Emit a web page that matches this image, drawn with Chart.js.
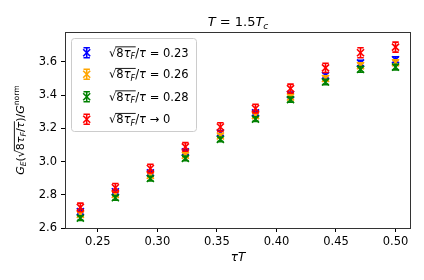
<!DOCTYPE html>
<html>
<head>
<meta charset="utf-8">
<script src="https://cdn.jsdelivr.net/npm/chart.js@4.4.0/dist/chart.umd.min.js"></script>
<style>
  html, body { margin: 0; padding: 0; background: #fff; }
  #wrap { width: 424px; height: 280px; }
</style>
</head>
<body>
<div id="wrap"><canvas id="chart" width="424" height="280"></canvas></div>
<script>
// tau*T values (x)
var tauT = [0.2353, 0.2647, 0.2941, 0.3235, 0.3529, 0.3824, 0.4118, 0.4412, 0.4706, 0.5000];

// G_E / G^norm for each flow time ratio
var g023 = [2.698, 2.818, 2.932, 3.058, 3.172, 3.293, 3.403, 3.518, 3.593, 3.613];
var g026 = [2.682, 2.802, 2.917, 3.038, 3.154, 3.277, 3.389, 3.500, 3.577, 3.595];
var g028 = [2.660, 2.782, 2.898, 3.019, 3.134, 3.256, 3.373, 3.479, 3.555, 3.569];
var gCont = [2.724, 2.842, 2.958, 3.088, 3.208, 3.319, 3.439, 3.564, 3.655, 3.689];

// error bars
var e023 = [0.014, 0.014, 0.014, 0.014, 0.014, 0.014, 0.015, 0.016, 0.017, 0.017];
var e026 = [0.014, 0.014, 0.014, 0.014, 0.014, 0.014, 0.015, 0.016, 0.017, 0.017];
var e028 = [0.014, 0.014, 0.014, 0.014, 0.014, 0.014, 0.015, 0.016, 0.017, 0.017];
var eCont = [0.026, 0.026, 0.026, 0.026, 0.026, 0.026, 0.027, 0.028, 0.030, 0.030];

var legendVals = ['= 0.23', '= 0.26', '= 0.28', '\u2192 0'];
var colors = ['#0000ff', '#ffa500', '#008000', '#ff0000'];

var xTicks = [0.25, 0.30, 0.35, 0.40, 0.45, 0.50];
var yTicks = [2.6, 2.8, 3.0, 3.2, 3.4, 3.6];

var FONT = '"DejaVu Sans", sans-serif';

function pts(ys) {
    return tauT.map(function(x, i){ return {x: x, y: ys[i]}; });
}

// draws a row of text pieces (italic, sub/superscript, overline)
function drawRuns(ctx, runs, cx, cy, size, align) {
    var total = 0;
    runs.forEach(function(r){
        var s = (r.sub || r.sup) ? size * 0.7 : size;
        r._font = (r.it ? 'italic ' : '') + s + 'px ' + FONT;
        ctx.font = r._font;
        r._w = ctx.measureText(r.t).width;
        total += r._w;
    });
    var x = align == 'left' ? cx : cx - total / 2;
    var base = cy + size * 0.35;
    var olStart = null, olEnd = null;
    ctx.textAlign = 'left';
    ctx.textBaseline = 'alphabetic';
    runs.forEach(function(r){
        ctx.font = r._font;
        var dy = r.sub ? size * 0.22 : (r.sup ? -size * 0.42 : 0);
        ctx.fillText(r.t, x, base + dy);
        if (r.ol) {
            if (olStart === null) olStart = x;
            olEnd = x + r._w;
        }
        x += r._w;
    });
    if (olStart !== null) {
        ctx.beginPath();
        ctx.lineWidth = 0.9;
        ctx.moveTo(olStart - 1, base - size * 0.86);
        ctx.lineTo(olEnd + 0.5, base - size * 0.86);
        ctx.stroke();
    }
}

function drawErrMark(ctx, x, y, errPx, color) {
    ctx.save();
    ctx.strokeStyle = color;
    ctx.lineWidth = 1.6;
    ctx.beginPath();
    ctx.moveTo(x, y - errPx); ctx.lineTo(x, y + errPx);
    ctx.moveTo(x - 3.2, y - errPx); ctx.lineTo(x + 3.2, y - errPx);
    ctx.moveTo(x - 3.2, y + errPx); ctx.lineTo(x + 3.2, y + errPx);
    ctx.stroke();
    ctx.restore();
}

var errs = [e023, e026, e028, eCont];

var extras = {
    id: 'extras',
    afterDatasetDraw: function(chart, args) {
        var ctx = chart.ctx;
        var meta = args.meta;
        var e = errs[args.index];
        var ys = chart.scales.y;
        meta.data.forEach(function(p, i){
            var v = chart.data.datasets[args.index].data[i].y;
            var px = Math.abs(ys.getPixelForValue(v + e[i]) - ys.getPixelForValue(v));
            drawErrMark(ctx, p.x, p.y, px, colors[args.index]);
        });
    },
    afterDraw: function(chart) {
        var ctx = chart.ctx;
        var a = chart.chartArea;
        ctx.save();
        // frame
        ctx.strokeStyle = '#333';
        ctx.lineWidth = 1;
        ctx.strokeRect(Math.round(a.left) + 0.5, Math.round(a.top) + 0.5,
            Math.round(a.right - a.left) - 1, Math.round(a.bottom - a.top));

        ctx.fillStyle = '#000';
        ctx.strokeStyle = '#000';
        // title
        drawRuns(ctx, [{t:'T', it:true}, {t:' = 1.5'}, {t:'T', it:true}, {t:'c', it:true, sub:true}],
            (a.left + a.right) / 2, 21.5, 13);
        // x label
        drawRuns(ctx, [{t:'\u03c4', it:true}, {t:'T', it:true}], (a.left + a.right) / 2, 256.5, 12);
        // y label
        ctx.save();
        ctx.translate(20, (a.top + a.bottom) / 2);
        ctx.rotate(-Math.PI / 2);
        drawRuns(ctx, [{t:'G', it:true}, {t:'E', it:true, sub:true}, {t:'('}, {t:'\u221a'},
            {t:'8', ol:true}, {t:'\u03c4', it:true, ol:true}, {t:'F', it:true, sub:true, ol:true},
            {t:'/', ol:true}, {t:'\u03c4', it:true, ol:true}, {t:')'}, {t:'/'}, {t:'G', it:true},
            {t:'norm', sup:true}], 0, 0, 11);
        ctx.restore();

        // legend
        ctx.beginPath();
        ctx.roundRect(71.5, 38.5, 125, 93, 3);
        ctx.fillStyle = 'rgba(255,255,255,0.8)';
        ctx.fill();
        ctx.strokeStyle = '#cccccc';
        ctx.stroke();
        var rows = [52.7, 74.3, 96.7, 119.3];
        rows.forEach(function(ry, i){
            drawErrMark(ctx, 86.7, ry, 5, colors[i]);
            ctx.save();
            ctx.strokeStyle = colors[i];
            ctx.lineWidth = 1.6;
            ctx.beginPath();
            ctx.moveTo(83.2, ry - 3.5); ctx.lineTo(90.2, ry + 3.5);
            ctx.moveTo(83.2, ry + 3.5); ctx.lineTo(90.2, ry - 3.5);
            ctx.stroke();
            ctx.restore();
            ctx.fillStyle = '#000';
            ctx.strokeStyle = '#000';
            drawRuns(ctx, [{t:'\u221a'}, {t:'8', ol:true}, {t:'\u03c4', it:true, ol:true},
                {t:'F', it:true, sub:true, ol:true}, {t:'/'}, {t:'\u03c4', it:true},
                {t:' ' + legendVals[i]}], 109, ry, 11.5, 'left');
        });
        ctx.restore();
    }
};

function ds(ys, i, ord) {
    return {
        data: pts(ys),
        pointStyle: 'crossRot',
        radius: 5,
        borderWidth: 1.6,
        borderColor: colors[i],
        backgroundColor: colors[i],
        showLine: false,
        order: ord
    };
}

var ctx = document.getElementById('chart').getContext('2d');
var chart = new Chart(ctx, {
    type: 'scatter',
    data: {
        datasets: [ds(g023, 0, 4), ds(g026, 1, 3), ds(g028, 2, 2), ds(gCont, 3, 1)]
    },
    plugins: [extras],
    options: {
        responsive: false,
        animation: false,
        layout: { padding: { top: 32, right: 13, left: 0, bottom: 0 } },
        plugins: { legend: { display: false }, tooltip: { enabled: false } },
        scales: {
            x: {
                type: 'linear',
                min: 0.2224,
                max: 0.513,
                afterBuildTicks: function(s){ s.ticks = xTicks.map(function(v){ return {value: v}; }); },
                afterFit: function(s){ s.height = 52; },
                ticks: {
                    color: '#000', padding: 3, maxRotation: 0,
                    font: { family: FONT, size: 11.5 },
                    callback: function(v){ return v.toFixed(2); }
                },
                grid: { drawOnChartArea: false, tickLength: 4, tickColor: '#000', tickWidth: 1 },
                border: { display: false }
            },
            y: {
                type: 'linear',
                min: 2.6,
                max: 3.78,
                afterBuildTicks: function(s){ s.ticks = yTicks.map(function(v){ return {value: v}; }); },
                afterFit: function(s){ s.width = 65; },
                ticks: {
                    color: '#000', padding: 4,
                    font: { family: FONT, size: 11.5 },
                    callback: function(v){ return v.toFixed(1); }
                },
                grid: { drawOnChartArea: false, tickLength: 4, tickColor: '#000', tickWidth: 1 },
                border: { display: false }
            }
        }
    }
});
</script>
</body>
</html>
